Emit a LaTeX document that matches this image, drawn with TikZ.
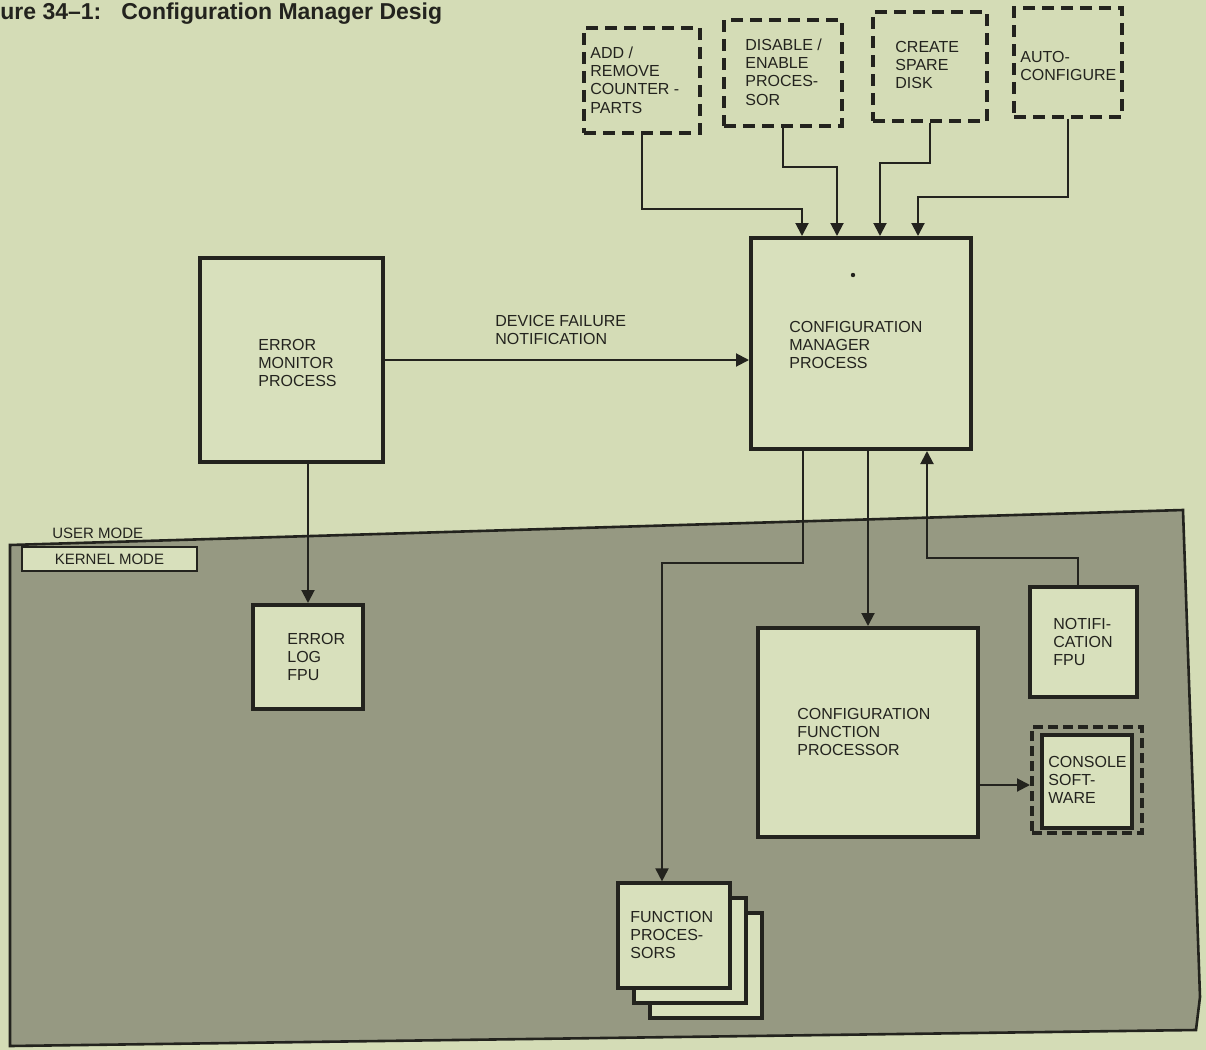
\documentclass[tikz,border=0pt]{standalone}
\usepackage{fontspec}
\setmainfont{Liberation Sans}
\usetikzlibrary{arrows.meta}
\definecolor{bgc}{RGB}{212,220,182}
\definecolor{kern}{RGB}{150,153,130}
\definecolor{boxc}{RGB}{216,224,188}
\definecolor{ink}{RGB}{35,35,30}
\begin{document}
\begin{tikzpicture}[x=0.5pt,y=-0.5pt,
  box/.style={draw=ink, line width=2pt, fill=boxc, inner sep=0pt},
  dbox/.style={draw=ink, line width=1.8pt, dash pattern=on 6pt off 3.5pt, inner sep=0pt},
  lbl/.style={font=\fontsize{8}{9.2}\selectfont, align=left, anchor=west, inner sep=0pt, text=ink},
  conn/.style={draw=ink, line width=1pt, -{Triangle[length=6.5pt,width=6.5pt]}}]
\fill[bgc] (0,0) rectangle (1206,1050);
\useasboundingbox (0,0) rectangle (1206,1050);
% title
\node[anchor=base west, inner sep=0pt, text=ink, font=\bfseries\fontsize{11.5}{13}\selectfont] (title) at (0,19) {ure 34--1:\hspace{10pt}Configuration Manager Desig};
% kernel region
\filldraw[fill=kern, draw=ink, line width=1.3pt] (10,545) -- (1183,510) -- (1200,997) -- (1196,1030) -- (10,1046) -- cycle;
\node[anchor=west, inner sep=0pt, text=ink, font=\fontsize{7.5}{9}\selectfont] (user) at (52,533) {USER MODE};
\node[draw=ink, line width=1.4pt, fill=boxc, minimum width=87.5pt, minimum height=12pt, inner sep=0pt, font=\fontsize{7.5}{9}\selectfont, text=ink] (kmode) at (109.5,559) {KERNEL MODE};
% top dashed boxes
\node[dbox, minimum width=58pt, minimum height=52.5pt] (tb1) at (642,80.5) {};
\node[dbox, minimum width=59pt, minimum height=53pt] (tb2) at (783,73) {};
\node[dbox, minimum width=57pt, minimum height=54.5pt] (tb3) at (930,66.5) {};
\node[dbox, minimum width=54pt, minimum height=54.5pt] (tb4) at (1068,62.5) {};
% main boxes
\node[box, minimum width=110pt, minimum height=105.5pt] (cmp) at (861,343.5) {};
\node[box, minimum width=91.5pt, minimum height=102pt] (emp) at (291.5,360) {};
\node[box, minimum width=55pt, minimum height=52pt] (elog) at (308,657) {};
\node[box, minimum width=53.5pt, minimum height=55pt] (notif) at (1083.5,642) {};
\node[box, minimum width=110pt, minimum height=104.5pt] (cfp) at (868,732.5) {};
\node[dbox, line width=2pt, dash pattern=on 5pt off 2.5pt, minimum width=55pt, minimum height=53pt] (consout) at (1087,780) {};
\node[box, line width=1.6pt, minimum width=45pt, minimum height=46.5pt] (consin) at (1087,781.5) {};
\node[box, line width=1.6pt, minimum width=56pt, minimum height=52.5pt] (fp3) at (706,965.5) {};
\node[box, line width=1.6pt, minimum width=56pt, minimum height=52.5pt] (fp2) at (690,950.5) {};
\node[box, line width=1.6pt, minimum width=56pt, minimum height=52.5pt] (fp1) at (674,935.5) {};
% connector bend points
\coordinate (k1) at (802,209);
\coordinate (k2) at (837,167);
\coordinate (k3) at (880,163);
\coordinate (k4) at (918,197);
\coordinate (k5) at (803,563);
\coordinate (k6) at (662,563);
\coordinate (k8) at (1078,558);
\coordinate (k9) at (927,558);
\coordinate (k10) at (978,785);
% connectors
\draw[conn] (tb1.south) |- (k1) -- (k1 |- cmp.north);
\draw[conn] (tb2.south) |- (k2) -- (k2 |- cmp.north);
\draw[conn] (tb3.south) |- (k3) -- (k3 |- cmp.north);
\draw[conn] (tb4.south) |- (k4) -- (k4 |- cmp.north);
\draw[conn] (emp.east) -- (cmp.west |- emp.east);
\draw[conn] (elog.north |- emp.south) -- (elog.north);
\draw[conn] (k5 |- cmp.south) -- (k5) -- (k6) -- (k6 |- fp1.north);
\draw[conn] (cfp.north |- cmp.south) -- (cfp.north);
\draw[conn] (k8 |- notif.north) -- (k8) -- (k9) -- (k9 |- cmp.south);
\draw[conn] (cfp.east |- k10) -- (consout.west |- k10);
% speck
\fill[ink] (853,275) circle (1.1pt);
% texts
\node[lbl] (t1) at (590,80) {ADD /\\REMOVE\\COUNTER -\\PARTS};
\node[lbl] (t2) at (745,72) {DISABLE /\\ENABLE\\PROCES-\\SOR};
\node[lbl] (t3) at (895,65) {CREATE\\SPARE\\DISK};
\node[lbl] (t4) at (1020,66) {AUTO-\\CONFIGURE};
\node[lbl] (cmpt) at (789,345) {CONFIGURATION\\MANAGER\\PROCESS};
\node[lbl] (empt) at (258,363) {ERROR\\MONITOR\\PROCESS};
\node[lbl] (dft) at (495,330) {DEVICE FAILURE\\NOTIFICATION};
\node[lbl] (elogt) at (287,657) {ERROR\\LOG\\FPU};
\node[lbl] (notift) at (1053,642) {NOTIFI-\\CATION\\FPU};
\node[lbl] (cfpt) at (797,732) {CONFIGURATION\\FUNCTION\\PROCESSOR};
\node[lbl] (const) at (1048,780) {CONSOLE\\SOFT-\\WARE};
\node[lbl] (fpt) at (630,935) {FUNCTION\\PROCES-\\SORS};
\end{tikzpicture}
\end{document}
